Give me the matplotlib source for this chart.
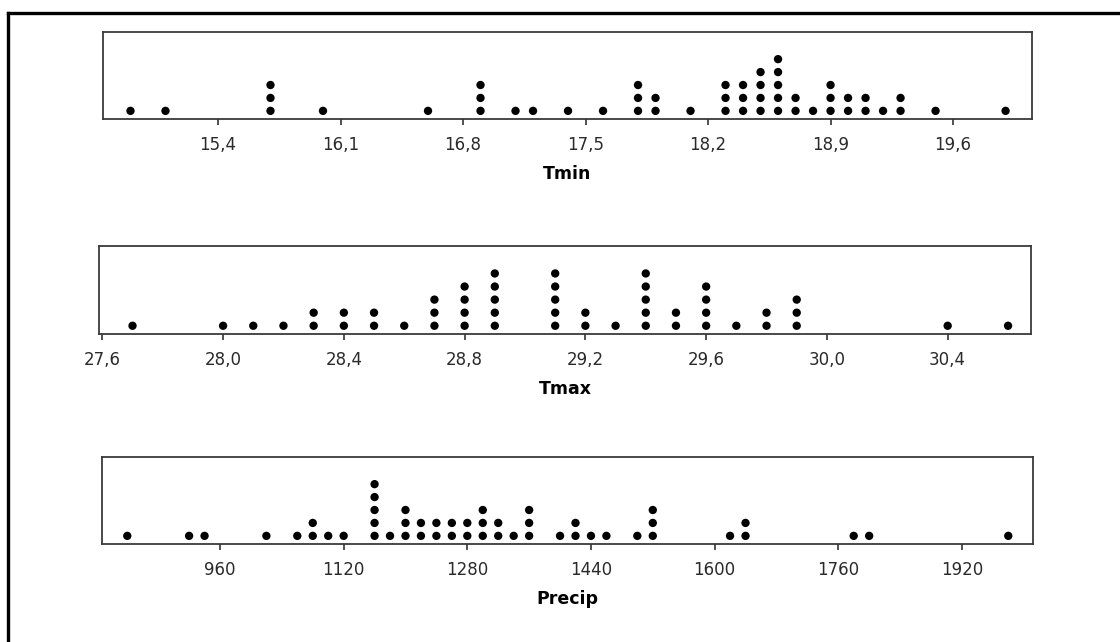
import numpy as np
import matplotlib
matplotlib.use("Agg")
import matplotlib.pyplot as plt
from matplotlib.lines import Line2D

plt.rcParams['font.family'] = ['DejaVu Sans']

# ---- data (value bins and number of dots stacked at each) ----
tmin_values = [14.9, 15.1, 15.7, 16.0, 16.6, 16.9, 17.1, 17.2, 17.4, 17.6, 17.8, 17.9,
               18.1, 18.3, 18.4, 18.5, 18.6, 18.7, 18.8, 18.9, 19.0, 19.1, 19.2, 19.3,
               19.5, 19.9]
tmin_counts = [1, 1, 3, 1, 1, 3, 1, 1, 1, 1, 3, 2,
               1, 3, 3, 4, 5, 2, 1, 3, 2, 2, 1, 2,
               1, 1]
tmin_ticks = [15.4, 16.1, 16.8, 17.5, 18.2, 18.9, 19.6]
tmin_ticklabels = ["15,4", "16,1", "16,8", "17,5", "18,2", "18,9", "19,6"]

tmax_values = [27.7, 28.0, 28.1, 28.2, 28.3, 28.4, 28.5, 28.6, 28.7, 28.8, 28.9, 29.1,
               29.2, 29.3, 29.4, 29.5, 29.6, 29.7, 29.8, 29.9, 30.4, 30.6]
tmax_counts = [1, 1, 1, 1, 2, 2, 2, 1, 3, 4, 5, 5,
               2, 1, 5, 2, 4, 1, 2, 3, 1, 1]
tmax_ticks = [27.6, 28.0, 28.4, 28.8, 29.2, 29.6, 30.0, 30.4]
tmax_ticklabels = ["27,6", "28,0", "28,4", "28,8", "29,2", "29,6", "30,0", "30,4"]

precip_values = [840, 920, 940, 1020, 1060, 1080, 1100, 1120, 1160, 1180, 1200, 1220,
                 1240, 1260, 1280, 1300, 1320, 1340, 1360, 1400, 1420, 1440, 1460, 1500,
                 1520, 1620, 1640, 1780, 1800, 1980]
precip_counts = [1, 1, 1, 1, 1, 2, 1, 1, 5, 1, 3, 2,
                 2, 2, 2, 3, 2, 1, 3, 1, 2, 1, 1, 1,
                 3, 1, 2, 1, 1, 1]
precip_ticks = [960, 1120, 1280, 1440, 1600, 1760, 1920]
precip_ticklabels = ["960", "1120", "1280", "1440", "1600", "1760", "1920"]

labels = ["Tmin", "Tmax", "Precip"]

# ---- figure ----
W, H = 1120, 642
fig = plt.figure(figsize=(W / 100, H / 100), dpi=100)

def px_axes(x0, y0, x1, y1):
    # pixel box (top-left origin) -> figure fraction
    return fig.add_axes([x0 / W, 1 - y1 / H, (x1 - x0) / W, (y1 - y0) / H])

panels = [
    (px_axes(103, 32, 1032, 119), tmin_values, tmin_counts, tmin_ticks, tmin_ticklabels,
     (14.743, 20.051), labels[0]),
    (px_axes(99, 246, 1031, 334), tmax_values, tmax_counts, tmax_ticks, tmax_ticklabels,
     (27.589, 30.676), labels[1]),
    (px_axes(102, 457, 1033, 544), precip_values, precip_counts, precip_ticks, precip_ticklabels,
     (807.3, 2012.0), labels[2]),
]

for ax, vals, cnts, ticks, tlabels, xlim, lab in panels:
    xs = np.repeat(vals, cnts)
    ys = np.concatenate([np.arange(c) for c in cnts])
    ax.scatter(xs, ys, s=36, color="black", edgecolors="none", zorder=3)
    ax.set_xlim(*xlim)
    ax.set_ylim(-0.63, 6.1)
    ax.set_yticks([])
    ax.set_xticks(ticks)
    ax.set_xticklabels(tlabels, fontsize=12, color="#2a2a2a")
    ax.tick_params(axis="x", direction="out", length=4, width=1.2, color="#333333", pad=8.5)
    for sp in ax.spines.values():
        sp.set_color("#3a3a3a")
        sp.set_linewidth(1.3)
    ax.set_xlabel(lab, fontsize=12.5, fontweight="bold", labelpad=7.5)

# outer frame (top and left edges visible)
fig.add_artist(Line2D([8 / W, 1.0], [1 - 13 / H, 1 - 13 / H], transform=fig.transFigure,
                      color="black", linewidth=2.4))
fig.add_artist(Line2D([8 / W, 8 / W], [1 - 13 / H, 0.0], transform=fig.transFigure,
                      color="black", linewidth=2.4))

fig.savefig("out.png", dpi=100, facecolor="white")
